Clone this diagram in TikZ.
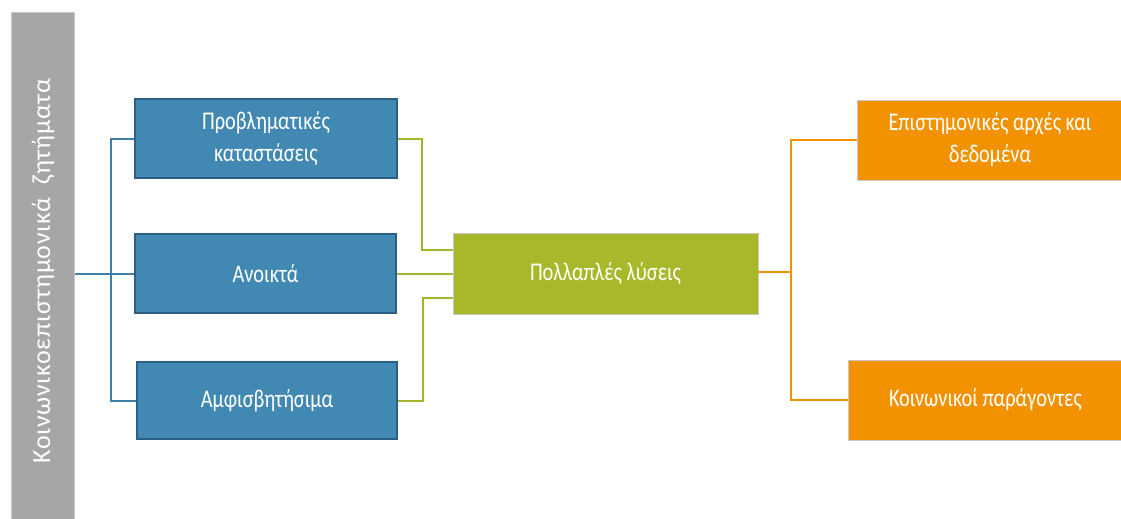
\documentclass[tikz,border=0pt]{standalone}
\usepackage{fontspec}
\setmainfont{Carlito}[FakeStretch=0.8]
\newfontfamily\sidefont{Carlito}[LetterSpace=3]
\definecolor{bluefill}{HTML}{4189B3}
\definecolor{blueedge}{HTML}{2C5F85}
\definecolor{bluelink}{HTML}{3F7FAA}
\definecolor{greenfill}{HTML}{A8B82A}
\definecolor{greenlink}{HTML}{A4B52C}
\definecolor{orangefill}{HTML}{F39200}
\definecolor{graybar}{HTML}{A6A6A6}
\definecolor{grayedge}{HTML}{C8C8C8}
\tikzset{
  x=1pt, y=-1pt,
  box/.style={rectangle, inner sep=2pt, align=center, text=white, font=\fontsize{25.5}{32}\selectfont},
  bluebox/.style={box, fill=bluefill, draw=blueedge, line width=2pt},
  greenbox/.style={box, fill=greenfill, draw=grayedge, line width=0.8pt},
  orangebox/.style={box, fill=orangefill, draw=grayedge, line width=0.8pt},
  bluelinestyle/.style={draw=bluelink, line width=2pt},
  greenlinestyle/.style={draw=greenlink, line width=2pt},
  orangelinestyle/.style={draw=orangefill, line width=2pt},
}
\begin{document}
\begin{tikzpicture}
\useasboundingbox (0,0) rectangle (1121,519);
\fill[white] (0,0) rectangle (1121,519);
% gray side bar
\node[rectangle, fill=graybar, draw=grayedge, line width=1.2pt, minimum width=63pt, minimum height=510pt, anchor=north west, inner sep=0pt] (bar) at (11,12) {};
\node[rotate=90, text=white, font=\sidefont\fontsize{26}{30}\selectfont] (bartext) at (43,271) {Κοινωνικοεπιστημονικά\ \ ζητήματα};
% blue boxes
\node[bluebox, minimum width=262pt, minimum height=79pt] (b1) at (266,138.5) {Προβληματικές\\καταστάσεις};
\node[bluebox, minimum width=261pt, minimum height=79pt] (b2) at (265.5,273.5) {Ανοικτά};
\node[bluebox, minimum width=260pt, minimum height=77pt] (b3) at (267,400.5) {Αμφισβητήσιμα};
% green box
\node[greenbox, minimum width=305pt, minimum height=81pt] (g) at (605.5,273.5) {Πολλαπλές λύσεις};
% orange boxes
\node[orangebox, minimum width=266pt, minimum height=80pt] (o1) at (990,140) {Επιστημονικές αρχές και\\δεδομένα};
\node[orangebox, minimum width=275pt, minimum height=80pt] (o2) at (985.5,400) {Κοινωνικοί παράγοντες};
% blue connectors
\coordinate (bj) at (111,273);
\draw[bluelinestyle] (bar.east |- b2.west) -- (b2.west);
\draw[bluelinestyle] (b1.west) -| (bj) |- (b3.west);
% green connectors
\coordinate (gt) at (453,250);
\coordinate (gb) at (453,298);
\draw[greenlinestyle] (b1.east) -| (422,250) -- (gt);
\draw[greenlinestyle] (b2.east) -- (g.west |- b2.east);
\draw[greenlinestyle] (b3.east) -| (423,298) -- (gb);
% orange connectors
\coordinate (oj) at (791,272);
\draw[orangelinestyle] (g.east |- oj) -- (oj);
\draw[orangelinestyle] (o1.west) -| (oj) |- (o2.west);
\end{tikzpicture}
\end{document}
